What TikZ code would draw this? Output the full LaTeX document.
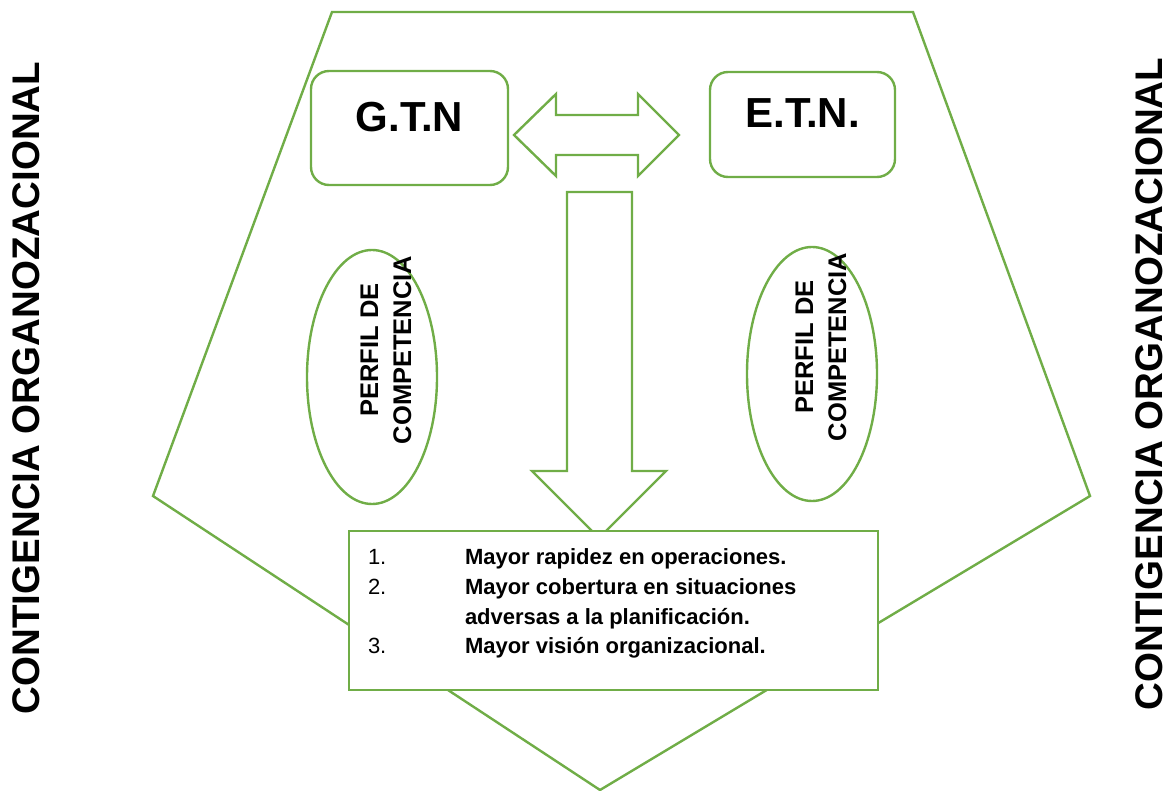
\documentclass[tikz,border=0pt]{standalone}
\usepackage{fontspec}
\setmainfont{Liberation Sans}
\usetikzlibrary{shapes.geometric, positioning}
\definecolor{officegreen}{RGB}{112,173,71}

\begin{document}
\begin{tikzpicture}[x=1pt, y=-1pt]
            \tikzstyle{outline} = [draw=officegreen, line width=2.4pt]
            \tikzstyle{teambox} = [rectangle, rounded corners=18pt, draw=officegreen, line width=2.4pt, text height=30pt, text depth=22pt, text centered, font=\fontsize{42}{48}\selectfont\bfseries]
            \tikzstyle{profile} = [ellipse, draw=officegreen, line width=2.4pt, minimum width=130pt, minimum height=254pt, inner sep=0pt]
            \tikzstyle{profiletext} = [rotate=90, align=center, font=\fontsize{25.5}{33}\selectfont\bfseries]
            \tikzstyle{sidetext} = [rotate=90, font=\fontsize{38.5}{44}\selectfont\bfseries]
            \tikzstyle{listbox} = [rectangle, draw=officegreen, line width=2.4pt, fill=white, minimum width=529pt, minimum height=159pt]
            \tikzstyle{blockarrow} = [draw=officegreen, line width=2.4pt, fill=white]

            \useasboundingbox (0,0) rectangle (1170,791);

            % Frame
            \draw [outline] (332,12) -- (913,12) -- (1090,496) -- (600,790) -- (153,496) -- cycle;

            % Block arrows
            \draw [blockarrow] (514,135) -- (556,94) -- (556,115) -- (638,115) -- (638,94) -- (679,135)
                -- (638,176) -- (638,155) -- (556,155) -- (556,176) -- cycle;
            \draw [blockarrow] (567,192) -- (632,192) -- (632,471) -- (666,471) -- (599,538)
                -- (532,471) -- (567,471) -- cycle;

            % Nodes
            \node (gtn) [teambox, minimum width=197pt, minimum height=114pt] at (409.5,128) {G.T.N};
            \node (etn) [teambox, minimum width=185pt, minimum height=105pt, text depth=23pt] at (802.5,124.5) {E.T.N.};
            \node (profileL) [profile] at (372,377) {};
            \node (profileR) [profile] at (812,374) {};
            \node (profileLtext) [profiletext] at (386,350) {PERFIL DE\\COMPETENCIA};
            \node (profileRtext) [profiletext] at (821,347) {PERFIL DE\\COMPETENCIA};
            \node (results) [listbox] at (613.5,610.5) {};
            \node (items) [below right=14pt and 20pt of results.north west, inner sep=0pt, font=\fontsize{22}{29.7}\selectfont] {%
                \begin{tabular}{@{}p{97pt}@{}l@{}}
                1. & \textbf{Mayor rapidez en operaciones.}\\
                2. & \textbf{Mayor cobertura en situaciones}\\
                   & \textbf{adversas a la planificación.}\\
                3. & \textbf{Mayor visión organizacional.}
                \end{tabular}};
            \node (contL) [sidetext] at (26,388) {CONTIGENCIA ORGANOZACIONAL};
            \node (contR) [sidetext] at (1149,384) {CONTIGENCIA ORGANOZACIONAL};
\end{tikzpicture}
\end{document}
